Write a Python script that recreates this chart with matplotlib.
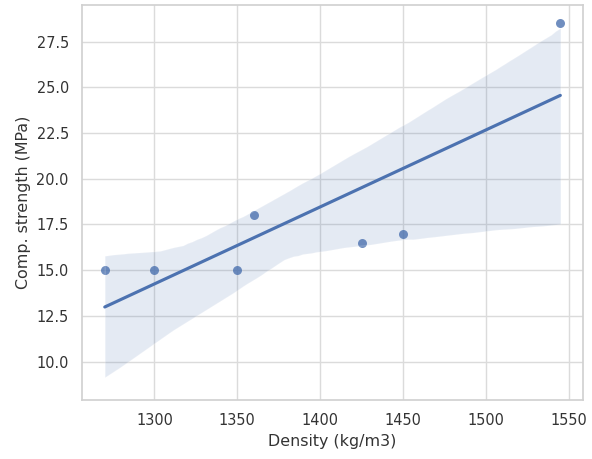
import matplotlib
matplotlib.use("Agg")
import matplotlib.pyplot as plt
import seaborn as sns
import pandas as pd

density = [1270, 1300, 1350, 1360, 1425, 1450, 1545]
strength = [15.0, 15.0, 15.0, 18.0, 16.5, 17.0, 28.5]

df = pd.DataFrame({"Density (kg/m3)": density, "Comp. strength (MPa)": strength})

sns.set_theme(style="whitegrid", font_scale=0.95,
              rc={"text.color": ".2", "axes.labelcolor": ".2",
                  "xtick.color": ".2", "ytick.color": ".2",
                  "axes.edgecolor": ".82", "grid.color": ".86"})
fig, ax = plt.subplots(figsize=(5.92, 4.59), dpi=100)
sns.regplot(data=df, x="Density (kg/m3)", y="Comp. strength (MPa)", ax=ax, seed=0,
            scatter_kws={"s": 42, "linewidths": 0})
ax.set_ylim(7.9, 29.5)
fig.subplots_adjust(left=0.1385, right=0.985, top=0.989, bottom=0.1285)
fig.savefig("out.png", dpi=100)
